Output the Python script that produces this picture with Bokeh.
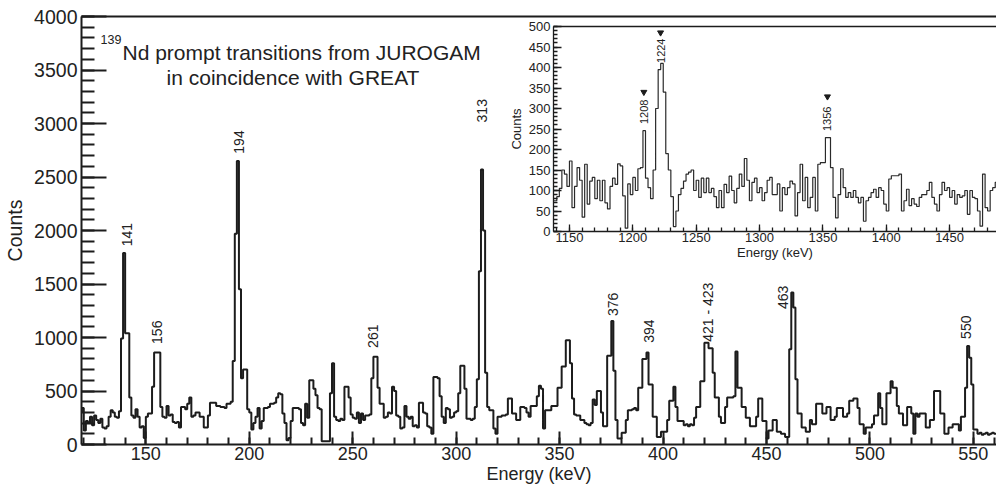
import numpy as np
from math import pi
from bokeh.plotting import figure
from bokeh.models import Range1d, LinearAxis, SingleIntervalTicker, FixedTicker, Label
from bokeh.layouts import column
from bokeh.core.properties import value
from bokeh.embed import file_html
from bokeh.resources import INLINE

FONT = "Liberation Sans"
INK = "#1c1c1c"

# Main spectrum (JUROGAM prompt), 1 keV bins, first bin starts at 118 keV
main_first_bin = 118
main_counts = [
    300, 340, 130, 220, 200, 260, 180, 270, 230, 200,      # 118
    240, 160, 150, 170, 260, 320, 300, 260, 250, 310,      # 128
    990, 1790, 1040, 1040, 440, 270, 250, 330, 260, 160,   # 138
    170, 60, 260, 290, 290, 540, 860, 860, 860, 350,       # 148
    260, 250, 360, 270, 280, 210, 200, 210, 160, 350,      # 158
    350, 330, 380, 440, 260, 270, 300, 300, 260, 260,      # 168
    160, 160, 270, 390, 390, 390, 360, 360, 350, 350,      # 178
    340, 380, 380, 400, 780, 1970, 2650, 1450, 620, 700,   # 188
    700, 330, 300, 140, 200, 260, 340, 150, 220, 340,      # 198
    340, 350, 380, 380, 390, 440, 480, 470, 290, 200,      # 208
    40, 60, 220, 340, 340, 340, 330, 200, 180, 380,        # 218
    250, 600, 600, 520, 460, 340, 330, 30, 30, 30,         # 228
    30, 480, 760, 260, 230, 220, 240, 230, 540, 540,       # 238
    440, 280, 250, 240, 300, 200, 290, 230, 270, 270,      # 248
    280, 620, 820, 820, 530, 380, 380, 250, 260, 300,      # 258
    290, 540, 500, 270, 260, 150, 160, 360, 260, 240,      # 268
    260, 170, 180, 160, 390, 390, 300, 290, 170, 160,      # 278
    100, 630, 630, 620, 450, 260, 200, 340, 330, 250,      # 288
    260, 300, 310, 480, 735, 735, 520, 240, 240, 230,      # 298
    240, 350, 610, 1620, 2570, 2000, 670, 350, 320, 320,   # 308
    150, 100, 260, 260, 270, 270, 280, 430, 430, 290,      # 318
    290, 230, 230, 350, 350, 340, 300, 260, 360, 360,      # 328
    360, 450, 550, 520, 150, 320, 320, 320, 360, 360,      # 338
    360, 530, 530, 730, 730, 975, 975, 760, 430, 280,      # 348
    270, 270, 230, 230, 200, 190, 180, 200, 420, 370,      # 358
    500, 500, 300, 170, 170, 830, 830, 1155, 690, 230,     # 368
    55, 55, 110, 110, 230, 320, 320, 330, 340, 320,        # 378
    530, 530, 800, 800, 860, 560, 560, 260, 260, 70,       # 388
    70, 120, 120, 120, 230, 410, 410, 540, 350, 220,       # 398
    220, 220, 180, 190, 170, 190, 180, 250, 350, 350,      # 408
    590, 590, 950, 950, 900, 900, 670, 440, 440, 260,      # 418
    200, 200, 350, 440, 440, 440, 450, 870, 530, 530,      # 428
    350, 350, 250, 250, 170, 170, 170, 260, 430, 430,      # 438
    220, 220, 55, 130, 130, 230, 230, 120, 120, 100,       # 448
    100, 70, 70, 890, 1420, 1280, 610, 290, 290, 160,      # 458
    160, 120, 120, 230, 190, 190, 380, 380, 380, 290,      # 468
    290, 350, 350, 230, 230, 260, 340, 340, 340, 260,      # 478
    260, 290, 410, 410, 430, 430, 340, 190, 190, 100,      # 488
    160, 160, 160, 190, 270, 270, 480, 340, 190, 190,      # 498
    480, 480, 590, 530, 530, 360, 290, 290, 180, 180,      # 508
    350, 350, 290, 100, 290, 260, 290, 290, 290, 160,      # 518
    160, 230, 230, 500, 500, 500, 290, 290, 100, 100,      # 528
    160, 160, 190, 190, 190, 130, 260, 260, 530, 920,      # 538
    810, 560, 140, 140, 100, 110, 90, 100, 110, 90,        # 548
    100, 110, 100,                                         # 558
]

# Inset spectrum (high energy part), 2 keV bins, first bin starts at 1136 keV
inset_first_bin = 1136
inset_bin_width = 2
inset_counts = [
    75, 75, 85, 105, 150, 140, 110, 172, 58, 110,          # 1136
    156, 125, 35, 164, 67, 123, 132, 80, 125, 75,          # 1156
    125, 70, 55, 110, 130, 115, 165, 160, 87, 8,           # 1176
    116, 90, 132, 100, 153, 156, 246, 130, 107, 80,        # 1196
    150, 300, 395, 410, 340, 190, 150, 85, 12, 50,         # 1216
    90, 105, 123, 140, 145, 150, 100, 125, 83, 130,        # 1236
    95, 130, 95, 105, 85, 58, 100, 58, 115, 95,            # 1256
    135, 100, 70, 105, 140, 110, 178, 125, 75, 120,        # 1276
    130, 95, 107, 75, 95, 125, 132, 90, 90, 116,           # 1296
    50, 107, 90, 107, 123, 116, 38, 95, 164, 75,           # 1316
    132, 58, 83, 132, 50, 164, 168, 168, 229, 229,         # 1336
    156, 83, 33, 90, 153, 107, 83, 95, 83, 100,            # 1356
    83, 70, 83, 25, 75, 83, 95, 103, 83, 107,              # 1376
    100, 67, 50, 128, 136, 136, 136, 140, 50, 75,          # 1396
    103, 63, 80, 67, 61, 83, 90, 90, 100, 120,             # 1416
    83, 67, 50, 90, 120, 100, 107, 83, 100, 67,            # 1436
    90, 83, 87, 100, 42, 100, 83, 80, 50, 13,              # 1456
    140, 58, 50, 100, 107, 120,                            # 1476
]

# Peak labels of the main spectrum (position of the bottom of the rotated text)
main_peak_text = ["141", "156", "194", "261", "313", "376", "394", "421 - 423", "463", "550"]
main_peak_x = [141.0, 155.5, 195.0, 259.6, 312.5, 375.6, 393.4, 421.9, 457.9, 546.3]
main_peak_y = [1853, 940, 2718, 903, 3010, 1200, 950, 960, 1266, 987]

# Peak labels and markers of the inset
inset_peak_text = ["1208", "1224", "1356"]
inset_peak_x = [1208.7, 1221.9, 1353.6]
inset_text_y = [262, 411, 245]
inset_arrow_y = [340, 485, 329]


def style_axis(ax, font_size, width, tick_in, minor_in):
    ax.axis_line_width = width
    ax.axis_line_color = INK
    ax.major_tick_in = tick_in
    ax.major_tick_out = 0
    ax.minor_tick_in = minor_in
    ax.minor_tick_out = 0
    ax.major_tick_line_width = width
    ax.minor_tick_line_width = width
    ax.major_tick_line_color = INK
    ax.minor_tick_line_color = INK
    ax.major_label_text_font = FONT
    ax.major_label_text_font_size = font_size
    ax.major_label_text_color = "#222222"
    ax.axis_label_text_font = FONT
    ax.axis_label_text_font_size = font_size
    ax.axis_label_text_font_style = "normal"
    ax.axis_label_text_color = "#222222"


def top_border(plot, width):
    # axis without ticks, only to draw the upper frame line
    top = LinearAxis(ticker=FixedTicker(ticks=[]), axis_line_width=width,
                     axis_line_color=INK, major_tick_out=0, minor_tick_out=0,
                     major_label_standoff=0)
    plot.add_layout(top, "above")


# ---------------- main plot ----------------
p = figure(width=996, height=487, x_range=Range1d(118.9, 561.2), y_range=Range1d(0, 4000),
           output_backend="svg", toolbar_location=None,
           min_border_left=81, min_border_right=0, min_border_top=16, min_border_bottom=43,
           x_axis_label="Energy (keV)", y_axis_label="Counts")
p.outline_line_color = None
p.grid.visible = False
p.background_fill_color = "white"
p.border_fill_color = "white"

p.xaxis.ticker = SingleIntervalTicker(interval=50, num_minor_ticks=5)
p.yaxis.ticker = SingleIntervalTicker(interval=500, num_minor_ticks=5)
style_axis(p.xaxis[0], "18px", 2, 13, 7)
style_axis(p.yaxis[0], "19.5px", 2, 25, 13)
p.xaxis.major_label_standoff = 2
p.xaxis.axis_label_standoff = 1
p.yaxis.major_label_standoff = 4
p.yaxis.axis_label_standoff = 5
top_border(p, 2)

edges = main_first_bin + np.arange(len(main_counts) + 1)
p.step(edges, main_counts + [main_counts[-1]], mode="after", line_color=INK, line_width=2)

p.text(main_peak_x, main_peak_y, text=main_peak_text, angle=pi / 2,
       text_align="left", text_baseline="middle", text_font=value(FONT),
       text_font_size="14px", text_color="#222222")

# title inside the frame
p.add_layout(Label(x=128.1, y=3789, text="139", text_font=FONT, text_font_size="12.5px",
                   text_color="#222222", text_baseline="alphabetic"))
p.add_layout(Label(x=138.7, y=3668, text="Nd prompt transitions from JUROGAM", text_font=FONT,
                   text_font_size="21px", text_color="#222222", text_baseline="alphabetic"))
p.add_layout(Label(x=160.0, y=3426, text="in coincidence with GREAT", text_font=FONT,
                   text_font_size="21px", text_color="#222222", text_baseline="alphabetic"))

# ---------------- inset ----------------
# the column lines up the left borders of both plots, so the inset gets the same border (81 px)
q = figure(width=524, height=246, x_range=Range1d(1137.4, 1487.0), y_range=Range1d(0, 500),
           output_backend="svg", toolbar_location=None,
           min_border_left=81, min_border_right=0, min_border_top=8, min_border_bottom=33,
           x_axis_label="Energy (keV)", y_axis_label="Counts")
q.outline_line_color = None
q.grid.visible = False
q.background_fill_color = "white"
q.border_fill_alpha = 0
q.xaxis.ticker = SingleIntervalTicker(interval=50, num_minor_ticks=5)
q.yaxis.ticker = SingleIntervalTicker(interval=50, num_minor_ticks=5)
style_axis(q.xaxis[0], "13px", 1.3, 7, 4)
style_axis(q.yaxis[0], "13px", 1.3, 8, 4)
q.xaxis.major_label_standoff = 1
q.xaxis.axis_label_standoff = 0
q.yaxis.major_label_standoff = 3
q.yaxis.axis_label_standoff = 2
top_border(q, 1.5)

inset_edges = inset_first_bin + inset_bin_width * np.arange(len(inset_counts) + 1)
q.step(inset_edges, inset_counts + [inset_counts[-1]], mode="after", line_color="#2a2a2a", line_width=1.2)

q.text(inset_peak_x, inset_text_y, text=inset_peak_text, angle=pi / 2,
       text_align="left", text_baseline="middle", text_font=value(FONT),
       text_font_size="11px", text_color="#222222")
q.scatter(inset_peak_x, inset_arrow_y, marker="inverted_triangle", size=6, color=INK)

# put the inset over the upper right part of the main plot
q.margin = (-469, 0, 0, 472)

layout = column(p, q)
open("out.html", "w").write(file_html(layout, INLINE))
